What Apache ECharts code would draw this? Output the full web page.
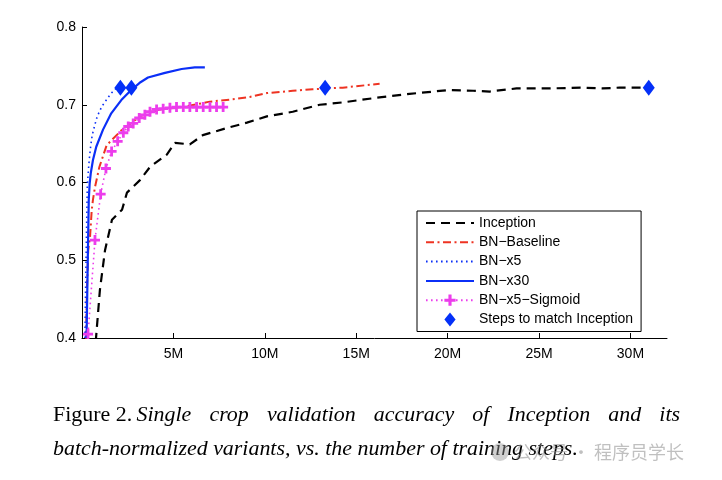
<!DOCTYPE html>
<html>
<head>
<meta charset="utf-8">
<script src="https://cdn.jsdelivr.net/npm/echarts@6/dist/echarts.min.js"></script>
<style>
html,body{margin:0;padding:0;background:#fff;}
#chart{width:722px;height:480px;}
</style>
</head>
<body>
<div id="chart"></div>
<script>
// ---- data (x in millions of training steps, y = validation accuracy) ----
const inceptionX = [0.75, 0.98, 1.26, 1.64, 2.19, 2.46, 3.17, 3.72, 4.64, 5.08, 5.90, 6.61, 7.92, 9.02, 10.11, 11.53, 13.0, 14.26, 16.12, 17.92, 20.1, 21.4, 22.3, 23.77, 25.57, 27.38, 28.47, 29.4, 30.9];
const inceptionY = [0.395, 0.462, 0.513, 0.552, 0.565, 0.587, 0.603, 0.620, 0.636, 0.651, 0.649, 0.661, 0.670, 0.677, 0.685, 0.691, 0.700, 0.703, 0.709, 0.714, 0.719, 0.718, 0.717, 0.721, 0.721, 0.722, 0.721, 0.722, 0.722];

const baselineX = [0.22, 0.27, 0.34, 0.44, 0.53, 0.60, 0.71, 0.95, 1.35, 2.15, 3.17, 4.26, 5.72, 6.99, 8.25, 9.18, 10.11, 11.53, 12.62, 14.26, 16.28];
const baselineY = [0.399, 0.462, 0.513, 0.530, 0.564, 0.578, 0.594, 0.620, 0.648, 0.667, 0.685, 0.694, 0.698, 0.704, 0.707, 0.710, 0.715, 0.718, 0.720, 0.722, 0.727];

const x5X = [0.16, 0.22, 0.29, 0.33, 0.37, 0.42, 0.48, 0.56, 0.66, 0.78, 0.91, 1.09, 1.33, 1.57, 1.86];
const x5Y = [0.400, 0.500, 0.596, 0.609, 0.622, 0.635, 0.648, 0.661, 0.670, 0.681, 0.689, 0.698, 0.706, 0.714, 0.721];

const x30X = [0.25, 0.31, 0.37, 0.42, 0.48, 0.60, 0.78, 1.15, 1.60, 2.15, 2.61, 3.2, 3.61, 4.54, 5.45, 6.17, 6.72];
const x30Y = [0.400, 0.492, 0.578, 0.599, 0.612, 0.629, 0.646, 0.668, 0.689, 0.706, 0.717, 0.729, 0.735, 0.741, 0.746, 0.748, 0.748];

const sigmoidX = [0.33, 0.71, 1.02, 1.31, 1.62, 1.95, 2.26, 2.53, 2.80, 3.13, 3.44, 3.72, 4.08, 4.44, 4.81, 5.17, 5.54, 5.90, 6.27, 6.63, 7.00, 7.36, 7.72];
const sigmoidY = [0.405, 0.526, 0.585, 0.618, 0.640, 0.653, 0.664, 0.672, 0.676, 0.683, 0.687, 0.691, 0.694, 0.695, 0.696, 0.697, 0.697, 0.697, 0.697, 0.697, 0.697, 0.697, 0.697];

const stepsX = [2.1, 2.7, 13.3, 31.0];
const stepsY = [0.722, 0.722, 0.722, 0.722];

const seriesNames = ['Inception', 'BN\u2212Baseline', 'BN\u2212x5', 'BN\u2212x30', 'BN\u2212x5\u2212Sigmoid', 'Steps to match Inception'];
const xTicks = [5, 10, 15, 20, 25, 30];
const yTicks = [0.4, 0.5, 0.6, 0.7, 0.8];

const captionLine1Label = 'Figure 2.';
const captionLine1 = 'Single crop validation accuracy of Inception and its';
const captionLine2 = 'batch-normalized variants, vs. the number of training steps.';
const watermark = '公众号 · 程序员学长';

// ---- helpers ----
const pairs = (xs, ys) => xs.map((x, i) => [x, ys[i]]);
const plusPath = 'path://M3.6,0H6.4V3.6H10V6.4H6.4V10H3.6V6.4H0V3.6H3.6Z';
const diamondPath = 'path://M6,0L12,7.5L6,15L0,7.5Z';

const BLUE = '#0b2ff7', DIA = '#0430f8', RED = '#ee3322', MAG = '#ec3dec';

// ---- caption layout (justified first line) ----
const mctx = document.createElement('canvas').getContext('2d');
const SERIF = '"Liberation Serif", "Times New Roman", serif';
function tw(t, font) { mctx.font = font; return mctx.measureText(t).width; }
const line2W20 = tw(captionLine2, 'italic 20px ' + SERIF);
const capSize = 20 * 525 / line2W20;
const itFont = 'italic ' + capSize.toFixed(2) + 'px ' + SERIF;
const rmFont = capSize.toFixed(2) + 'px ' + SERIF;
const capLeft = 53, capRight = 680;
const line1Y = 415, line2Y = 449;
const graphics = [];
const labelW = tw(captionLine1Label, rmFont);
graphics.push({ type: 'text', x: capLeft, y: line1Y, style: { text: captionLine1Label, font: rmFont, fill: '#000', verticalAlign: 'middle' } });
const words = captionLine1.split(' ');
const wWidths = words.map(w => tw(w, itFont));
const smallGap = tw(' ', rmFont) * 0.8;
const startX = capLeft + labelW + smallGap;
const sumW = wWidths.reduce((a, b) => a + b, 0);
const gap = (capRight - startX - sumW) / (words.length - 1);
let cx = startX;
words.forEach((w, i) => {
  graphics.push({ type: 'text', x: cx, y: line1Y, style: { text: w, font: itFont, fill: '#000', verticalAlign: 'middle' } });
  cx += wWidths[i] + gap;
});
graphics.push({ type: 'text', x: capLeft, y: line2Y, style: { text: captionLine2, font: itFont, fill: '#000', verticalAlign: 'middle' } });
// watermark
graphics.push({ type: 'circle', shape: { cx: 500, cy: 452, r: 9 }, style: { fill: 'rgba(150,150,150,0.45)' } });
graphics.push({ type: 'text', x: 514, y: 452, style: { text: watermark, font: '18px "Noto Sans CJK SC"', fill: 'rgba(140,140,140,0.55)', verticalAlign: 'middle' } });

const hideSym = { opacity: 0 };
const chart = echarts.init(document.getElementById('chart'), null, { renderer: 'canvas' });
const option = {
  animation: false,
  backgroundColor: '#fff',
  textStyle: { fontFamily: '"Liberation Sans", Arial, sans-serif' },
  grid: { left: 82, right: 55, top: 27, bottom: 142 },
  xAxis: {
    type: 'value', min: 0, max: 32, interval: 5,
    axisLine: { lineStyle: { color: '#000', width: 1 } },
    axisTick: { inside: true, length: 5, lineStyle: { color: '#000' }, customValues: xTicks },
    axisLabel: { customValues: xTicks, formatter: v => v + 'M', color: '#000', fontSize: 14, margin: 9 },
    splitLine: { show: false }
  },
  yAxis: {
    type: 'value', min: 0.4, max: 0.8, interval: 0.1,
    axisLine: { show: true, lineStyle: { color: '#000', width: 1 } },
    axisTick: { show: true, inside: true, length: 5, lineStyle: { color: '#000' }, customValues: yTicks },
    axisLabel: { customValues: yTicks, formatter: v => v.toFixed(1), color: '#000', fontSize: 14, margin: 6 },
    splitLine: { show: false }
  },
  legend: {
    orient: 'vertical', left: 417, top: 211,
    itemWidth: 48, itemHeight: 14, itemGap: 5.3,
    padding: [5, 8, 5, 8],
    borderColor: '#000', borderWidth: 1, backgroundColor: '#fff',
    textStyle: { fontSize: 14, color: '#000' },
    data: [
      { name: seriesNames[0], itemStyle: hideSym },
      { name: seriesNames[1], itemStyle: hideSym },
      { name: seriesNames[2], itemStyle: hideSym },
      { name: seriesNames[3], itemStyle: hideSym },
      { name: seriesNames[4] },
      { name: seriesNames[5], icon: diamondPath }
    ]
  },
  series: [
    { name: seriesNames[0], type: 'line', data: pairs(inceptionX, inceptionY), symbol: 'none',
      lineStyle: { color: '#000', width: 2.2, type: [9, 6] }, itemStyle: { color: '#000' }, z: 2 },
    { name: seriesNames[1], type: 'line', data: pairs(baselineX, baselineY), symbol: 'none',
      lineStyle: { color: RED, width: 2, type: [8, 3.5, 2, 3.5] }, itemStyle: { color: RED }, z: 3 },
    { name: seriesNames[2], type: 'line', data: pairs(x5X, x5Y), symbol: 'none',
      lineStyle: { color: BLUE, width: 1.6, type: [1.6, 3.4] }, itemStyle: { color: BLUE }, z: 4 },
    { name: seriesNames[3], type: 'line', data: pairs(x30X, x30Y), symbol: 'none',
      lineStyle: { color: BLUE, width: 2.2, type: 'solid' }, itemStyle: { color: BLUE }, z: 5 },
    { name: seriesNames[4], type: 'line', data: pairs(sigmoidX, sigmoidY), symbol: plusPath, symbolSize: 10, showSymbol: true,
      lineStyle: { color: MAG, width: 1.6, type: [1.6, 3.4] }, itemStyle: { color: MAG, borderWidth: 0 }, z: 6 },
    { name: seriesNames[5], type: 'scatter', data: pairs(stepsX, stepsY), symbol: 'diamond', symbolSize: [12, 16],
      itemStyle: { color: DIA, opacity: 1 }, z: 10 }
  ],
  graphic: graphics
};
chart.setOption(option);
</script>
</body>
</html>
